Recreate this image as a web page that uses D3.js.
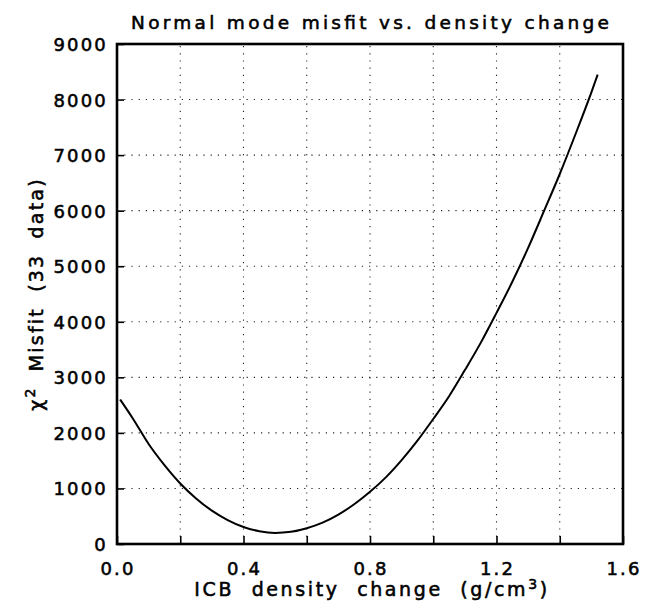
<!DOCTYPE html>
<html>
<head>
<meta charset="utf-8">
<script src="https://cdn.jsdelivr.net/npm/d3@7"></script>
<style>
  body { margin: 0; background: #fff; }
  svg text { font-family: "DejaVu Sans", sans-serif; fill: #000; stroke: #000; stroke-width: 0.55px; }
</style>
</head>
<body>
<div id="chart"></div>
<script>
// density change (g/cm3) and chi2 misfit
var density = [0.01, 0.05, 0.10, 0.15, 0.20, 0.25, 0.30, 0.35, 0.40, 0.45, 0.50,
               0.55, 0.60, 0.65, 0.70, 0.75, 0.80, 0.85, 0.90, 0.95, 1.00,
               1.05, 1.10, 1.15, 1.20, 1.25, 1.30, 1.35, 1.40, 1.45, 1.50, 1.52];
var misfit  = [2600, 2260, 1800, 1420, 1090, 820, 600, 430, 305, 230, 200,
               220, 285, 385, 530, 715, 940, 1200, 1510, 1860, 2250,
               2660, 3130, 3620, 4160, 4720, 5330, 5990, 6660, 7380, 8130, 8450];

var xTicks = [0, 0.2, 0.4, 0.6, 0.8, 1.0, 1.2, 1.4, 1.6];
var xLabels = [0, 0.4, 0.8, 1.2, 1.6];
var yTicks = [0, 1000, 2000, 3000, 4000, 5000, 6000, 7000, 8000, 9000];

var width = 650, height = 611;
var margin = {top: 44, right: 27, bottom: 67, left: 117};

var svg = d3.select("#chart").append("svg")
  .attr("width", width).attr("height", height);

var x = d3.scaleLinear().domain([0, 1.6]).range([margin.left, width - margin.right]);
var y = d3.scaleLinear().domain([0, 9000]).range([height - margin.bottom, margin.top]);

// dotted grid
svg.append("g").selectAll("line").data(xTicks.slice(1, -1)).enter().append("line")
  .attr("x1", d => x(d)).attr("x2", d => x(d))
  .attr("y1", y(0)).attr("y2", y(9000))
  .attr("stroke", "#222").attr("stroke-width", 1.1).attr("stroke-dasharray", "1.2,6");
svg.append("g").selectAll("line").data(yTicks.slice(1, -1)).enter().append("line")
  .attr("y1", d => y(d)).attr("y2", d => y(d))
  .attr("x1", x(0)).attr("x2", x(1.6))
  .attr("stroke", "#222").attr("stroke-width", 1.1).attr("stroke-dasharray", "1.2,6");

// axes, ticks drawn inward
svg.append("g").attr("transform", "translate(0," + y(0) + ")")
  .call(d3.axisBottom(x).tickValues(xTicks).tickSizeInner(-8).tickSizeOuter(0).tickFormat(""));
svg.append("g").attr("transform", "translate(" + x(0) + ",0)")
  .call(d3.axisLeft(y).tickValues(yTicks).tickSizeInner(-7).tickSizeOuter(0).tickFormat(""));
svg.selectAll(".domain").remove();
svg.selectAll(".tick line").attr("stroke", "#000").attr("stroke-width", 1.6);

// frame
svg.append("rect")
  .attr("x", x(0)).attr("y", y(9000))
  .attr("width", x(1.6) - x(0)).attr("height", y(0) - y(9000))
  .attr("fill", "none").attr("stroke", "#000").attr("stroke-width", 2.6);

// tick labels
svg.append("g").selectAll("text").data(yTicks).enter().append("text")
  .attr("x", x(0) - 9).attr("y", d => y(d) + 7)
  .attr("text-anchor", "end").attr("font-size", 18).attr("letter-spacing", 2.2)
  .text(d => d);
svg.append("g").selectAll("text").data(xLabels).enter().append("text")
  .attr("x", d => x(d) + 1).attr("y", y(0) + 31)
  .attr("text-anchor", "middle").attr("font-size", 18).attr("letter-spacing", 2.2)
  .text(d => d.toFixed(1));

// curve
var line = d3.line().x((d, i) => x(density[i])).y(d => y(d)).curve(d3.curveMonotoneX);
svg.append("path").datum(misfit)
  .attr("d", line).attr("fill", "none").attr("stroke", "#000").attr("stroke-width", 2);

// title
svg.append("text").attr("x", (x(0) + x(1.6)) / 2).attr("y", 29)
  .attr("text-anchor", "middle").attr("font-size", 18.5)
  .attr("textLength", 478).attr("lengthAdjust", "spacing")
  .text("Normal mode misfit vs. density change");

// x label
var xl = svg.append("text").attr("x", (x(0) + x(1.6)) / 2 + 2).attr("y", 596)
  .attr("text-anchor", "middle").attr("font-size", 19)
  .attr("letter-spacing", 2.6).attr("word-spacing", 9);
xl.append("tspan").text("ICB density change (g/cm");
xl.append("tspan").attr("dy", -7).attr("font-size", 14).text("3");
xl.append("tspan").attr("dy", 7).text(")");

// y label
var yl = svg.append("text")
  .attr("transform", "translate(43," + (y(0) + y(9000)) / 2 + ") rotate(-90)")
  .attr("text-anchor", "middle").attr("font-size", 19)
  .attr("letter-spacing", 2.2).attr("word-spacing", 7);
yl.append("tspan").text("\u03c7");
yl.append("tspan").attr("dy", -8).attr("font-size", 14).text("2");
yl.append("tspan").attr("dy", 8).text(" Misfit (33 data)");
</script>
</body>
</html>
